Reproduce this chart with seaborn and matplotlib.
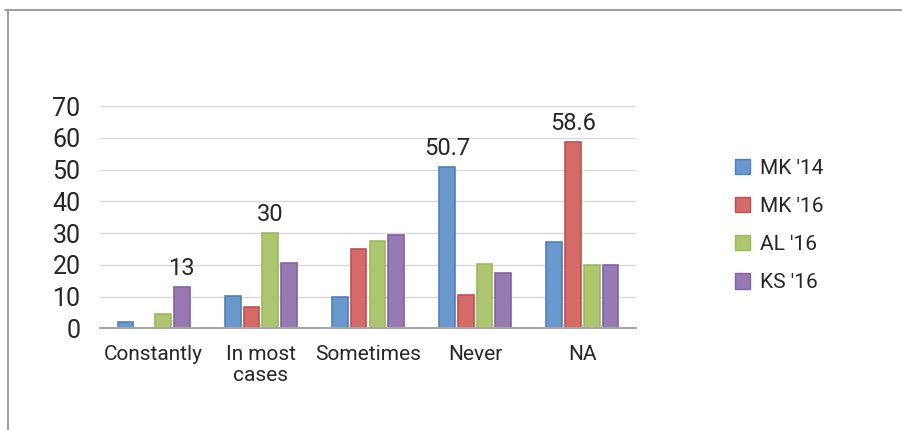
import numpy as np
import pandas as pd
import seaborn as sns
import matplotlib.pyplot as plt
from matplotlib.lines import Line2D

categories = ["Constantly", "In most\ncases", "Sometimes", "Never", "NA"]
series = ["MK '14", "MK '16", "AL '16", "KS '16"]
mk14 = [1.9, 10.1, 10.0, 50.7, 27.3]
mk16 = [0.0, 6.6, 25.0, 10.5, 58.6]
al16 = [4.4, 30.0, 27.4, 20.4, 19.9]
ks16 = [13.0, 20.6, 29.4, 17.4, 19.9]
yticks = [0, 10, 20, 30, 40, 50, 60, 70]

# bars that carry a value label: (series, category index)
labelled = {("KS '16", 0), ("AL '16", 1), ("MK '14", 3), ("MK '16", 4)}

fill_colors = ["#6B98CC", "#D46B69", "#ADC66F", "#977AB2"]
edge_colors = ["#4F81BD", "#C0504D", "#9BBB59", "#8064A2"]

df = pd.DataFrame({
    "category": np.tile(categories, len(series)),
    "series": np.repeat(series, len(categories)),
    "value": np.concatenate([mk14, mk16, al16, ks16]),
})

sns.set_theme(style="white")
plt.rcParams["font.family"] = ["Roboto", "DejaVu Sans"]

fig = plt.figure(figsize=(9.03, 4.30), dpi=100)
ax = fig.add_axes([100 / 903, 1 - 328.3 / 430, 536 / 903, 222.3 / 430])

sns.barplot(data=df, x="category", y="value", hue="series", order=categories,
            hue_order=series, palette=fill_colors, width=0.70, gap=0.16,
            ax=ax, legend=True, saturation=1)

for cont, ec, name in zip(ax.containers, edge_colors, series):
    for p in cont.patches:
        p.set_edgecolor(ec)
        p.set_linewidth(1.2)
    labels = []
    vals = df.loc[df["series"] == name, "value"].to_numpy()
    for i, v in enumerate(vals):
        labels.append(f"{v:g}" if (name, i) in labelled else "")
    ax.bar_label(cont, labels=labels, padding=5, fontsize=17, color="#262626")

ax.set_ylim(0, 70)
ax.set_yticks(yticks)
ax.set_xlabel("")
ax.set_ylabel("")
ax.grid(axis="y", color="#D9D9D9", linewidth=1)
ax.set_axisbelow(True)
for s in ["left", "right", "top"]:
    ax.spines[s].set_visible(False)
ax.spines["bottom"].set_color("#A6A6A6")
ax.spines["bottom"].set_linewidth(1.5)
ax.tick_params(axis="y", length=0, pad=14, labelsize=18, labelcolor="#262626")
ax.tick_params(axis="x", length=0, pad=12, labelsize=15, labelcolor="#262626")
for t in ax.get_xticklabels():
    t.set_linespacing(1.12)

handles, labs = ax.get_legend_handles_labels()
for h, ec in zip(handles, edge_colors):
    h.set_edgecolor(ec)
ax.legend_.remove()
fig.legend(handles, labs, loc="upper left", bbox_to_anchor=(716 / 903, 1 - 140 / 430),
           frameon=False, fontsize=15, handlelength=0.75, handleheight=0.75,
           handletextpad=0.45, labelspacing=0.92, labelcolor="#262626")

# outer frame: top and left edges
fig.add_artist(Line2D([5 / 903, 1], [1 - 9.5 / 430, 1 - 9.5 / 430],
                      transform=fig.transFigure, color="#A0A0A0", linewidth=1.5))
fig.add_artist(Line2D([7.5 / 903, 7.5 / 903], [1 - 9.5 / 430, 0],
                      transform=fig.transFigure, color="#A0A0A0", linewidth=1.5))

fig.savefig("out.png", dpi=100)
